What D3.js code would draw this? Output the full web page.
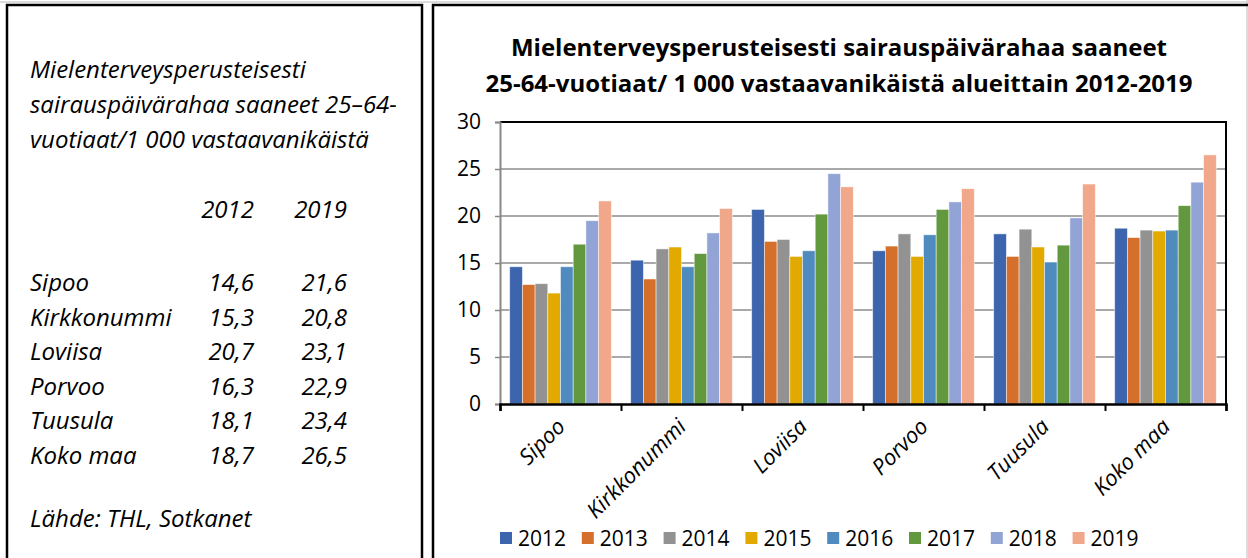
<!DOCTYPE html>
<html>
<head>
<meta charset="utf-8">
<script src="https://cdn.jsdelivr.net/npm/d3@7"></script>
<style>
  body { margin: 0; background: #fff; }
  text { font-family: "Open Sans", sans-serif; fill: #000; }
</style>
</head>
<body>
<script>
// data
const categories = ["Sipoo", "Kirkkonummi", "Loviisa", "Porvoo", "Tuusula", "Koko maa"];
const years = ["2012", "2013", "2014", "2015", "2016", "2017", "2018", "2019"];
const v2012 = [14.6, 15.3, 20.7, 16.3, 18.1, 18.7];
const v2013 = [12.7, 13.3, 17.3, 16.8, 15.7, 17.7];
const v2014 = [12.8, 16.5, 17.5, 18.1, 18.6, 18.5];
const v2015 = [11.8, 16.7, 15.7, 15.7, 16.7, 18.4];
const v2016 = [14.6, 14.6, 16.3, 18.0, 15.1, 18.5];
const v2017 = [17.0, 16.0, 20.2, 20.7, 16.9, 21.1];
const v2018 = [19.5, 18.2, 24.5, 21.5, 19.8, 23.6];
const v2019 = [21.6, 20.8, 23.1, 22.9, 23.4, 26.5];
const series = [v2012, v2013, v2014, v2015, v2016, v2017, v2018, v2019];
const colors = ["#3d65ae", "#d46f2c", "#929292", "#e2aa00", "#4f8bbf", "#63993e", "#91a4d5", "#f1a78a"];
const yTicks = [0, 5, 10, 15, 20, 25, 30];

const chartTitle = ["Mielenterveysperusteisesti sairauspäivärahaa saaneet",
                    "25-64-vuotiaat/ 1 000 vastaavanikäistä alueittain 2012-2019"];
const tableTitle = ["Mielenterveysperusteisesti",
                    "sairauspäivärahaa saaneet 25–64-",
                    "vuotiaat/1 000 vastaavanikäistä"];
const tableYears = ["2012", "2019"];
const source = "Lähde: THL, Sotkanet";

const W = 1248, H = 558;
const svg = d3.select("body").append("svg")
    .attr("width", W)
    .attr("height", H);

// panel frames
svg.append("line").attr("x1", 0).attr("x2", W).attr("y1", 2).attr("y2", 2)
   .attr("stroke", "#d0d0d0").attr("stroke-width", 1.5);
svg.append("line").attr("x1", 1247).attr("x2", 1247).attr("y1", 0).attr("y2", H)
   .attr("stroke", "#d0d0d0").attr("stroke-width", 1.5);
svg.append("rect").attr("x", 7).attr("y", 5).attr("width", 415).attr("height", 600)
   .attr("fill", "none").attr("stroke", "#000").attr("stroke-width", 2.5);
svg.append("rect").attr("x", 433).attr("y", 5).attr("width", 830).attr("height", 600)
   .attr("fill", "none").attr("stroke", "#000").attr("stroke-width", 2.5);

// left table
const fmt = v => v.toFixed(1).replace(".", ",");
const left = svg.append("g").style("font-style", "italic").style("font-size", "24px");

left.selectAll(".tt").data(tableTitle).enter().append("text")
    .attr("x", 30).attr("y", (d, i) => 78 + i * 35)
    .text(d => d);

const colX = [254, 347];
left.selectAll(".ty").data(tableYears).enter().append("text")
    .attr("x", (d, i) => colX[i]).attr("y", 218)
    .attr("text-anchor", "end").text(d => d);

const rows = left.selectAll(".row").data(categories).enter().append("g")
    .attr("transform", (d, i) => `translate(0,${291 + i * 34.6})`);
rows.append("text").attr("x", 30).text(d => d);
rows.append("text").attr("x", colX[0]).attr("text-anchor", "end").text((d, i) => fmt(v2012[i]));
rows.append("text").attr("x", colX[1]).attr("text-anchor", "end").text((d, i) => fmt(v2019[i]));

left.append("text").attr("x", 30).attr("y", 527).text(source);

// chart
const pl = 500, pr = 1226, pt = 122, pb = 404;

svg.append("g").selectAll("text").data(chartTitle).enter().append("text")
   .attr("x", 839).attr("y", (d, i) => 56 + i * 36)
   .attr("text-anchor", "middle")
   .style("font-weight", "bold").style("font-size", "24px")
   .text(d => d);

const y = d3.scaleLinear().domain([0, 30]).range([pb, pt]);
const x0 = d3.scaleBand().domain(categories).range([pl, pr])
    .paddingInner(0.16).paddingOuter(0.08);
const x1 = d3.scaleBand().domain(years).range([0, x0.bandwidth()]);

// gridlines
svg.append("g").selectAll("line").data(yTicks.filter(t => t > 0 && t < 30)).enter()
   .append("line")
   .attr("x1", pl).attr("x2", pr)
   .attr("y1", d => y(d)).attr("y2", d => y(d))
   .attr("stroke", "#8c8c8c").attr("stroke-width", 1.5);

// bars
const groups = svg.append("g").selectAll("g").data(series).enter().append("g")
    .attr("fill", (d, i) => colors[i]);
groups.each(function (vals, si) {
  d3.select(this).selectAll("rect").data(vals).enter().append("rect")
    .attr("x", (d, ci) => x0(categories[ci]) + x1(years[si]))
    .attr("width", x1.bandwidth())
    .attr("y", d => y(d))
    .attr("height", d => y(0) - y(d))
    .attr("stroke", "#fff").attr("stroke-opacity", 0.6).attr("stroke-width", 0.8);
});

// plot frame (top + right)
svg.append("path")
   .attr("d", `M${pl},${pt}H${pr}V${pb}`)
   .attr("fill", "none").attr("stroke", "#000").attr("stroke-width", 2);

// y axis
const yAxis = svg.append("g").attr("transform", `translate(${pl},0)`)
   .call(d3.axisLeft(y).tickValues(yTicks).tickSize(5).tickPadding(14));
yAxis.select(".domain").attr("stroke", "#888").attr("stroke-width", 2);
yAxis.selectAll(".tick line").attr("stroke", "#888").attr("stroke-width", 1.5);
yAxis.selectAll(".tick text").style("font-family", "Open Sans").style("font-size", "21px").attr("fill", "#000");

// x axis: ticks at category boundaries
const xb = d3.scaleLinear().domain([0, categories.length]).range([pl, pr]);
const xAxis = svg.append("g").attr("transform", `translate(0,${pb})`)
   .call(d3.axisBottom(xb).tickValues(d3.range(categories.length + 1)).tickSize(7).tickFormat(""));
xAxis.select(".domain").attr("stroke", "#000").attr("stroke-width", 2.5);
xAxis.selectAll(".tick line").attr("stroke", "#000").attr("stroke-width", 2);

svg.append("g").selectAll("text").data(categories).enter().append("text")
   .attr("transform", d => `translate(${x0(d) + x0.bandwidth() / 2 + 6},428) rotate(-45)`)
   .attr("text-anchor", "end")
   .style("font-style", "italic").style("font-size", "22px")
   .text(d => d);

// legend
const legend = svg.append("g").selectAll("g").data(years).enter().append("g")
   .attr("transform", (d, i) => `translate(${500 + i * 81.8},532)`);
legend.append("rect").attr("width", 12).attr("height", 12).attr("fill", (d, i) => colors[i]);
legend.append("text").attr("x", 18).attr("y", 13.5).style("font-size", "21px").text(d => d);
</script>
</body>
</html>
